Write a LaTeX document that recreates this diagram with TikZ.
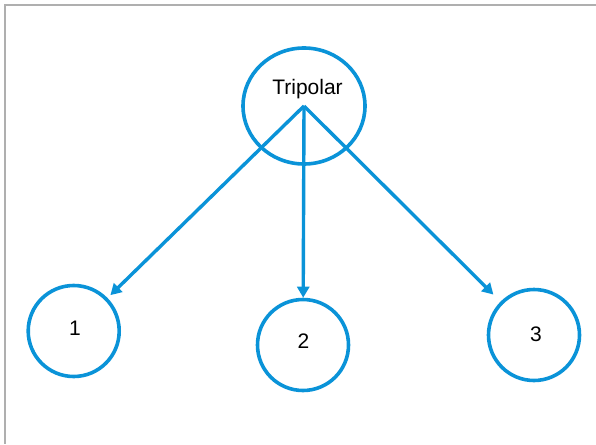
\documentclass[tikz,border=0pt]{standalone}
\usepackage{fontspec}
\setmainfont{Liberation Sans}
\usetikzlibrary{arrows.meta,shapes.geometric}
\definecolor{nodeblue}{HTML}{0A93D8}
\definecolor{framegray}{HTML}{AFAFAF}
\begin{document}
\begin{tikzpicture}[x=1pt,y=-1pt,
  bignode/.style={ellipse,draw=nodeblue,line width=3.6pt,minimum width=122pt,minimum height=116pt,inner sep=0pt,outer sep=0pt},
  smallnode/.style={circle,draw=nodeblue,line width=3.6pt,minimum size=91pt,inner sep=0pt,outer sep=1.8pt},
  label/.style={font=\fontsize{21}{25}\selectfont,anchor=base,inner sep=0pt},
  link/.style={draw=nodeblue,line width=3.4pt,-{Triangle[length=11pt,width=12pt]}}]
\useasboundingbox (0,0) rectangle (596,444);
\draw[framegray,line width=1.6pt] (596,5.2) -- (5,5.2) -- (5,444);
\node[bignode] (top) at (304,106) {};
\node[smallnode] (c1) at (73.7,331) {};
\node[smallnode] (c2) at (303,345) {};
\node[smallnode] (c3) at (534,335) {};
\node[label] (t0) at (307.5,94.3) {Tripolar};
\node[label] (t1) at (75,335) {1};
\node[label] (t2) at (303.5,348) {2};
\node[label] (t3) at (536,341) {3};
\draw[link,shorten >=4pt] (top.center) -- (c1);
\draw[link] (top.center) -- (c2);
\draw[link,shorten >=10pt] (top.center) -- (c3);
\end{tikzpicture}
\end{document}
